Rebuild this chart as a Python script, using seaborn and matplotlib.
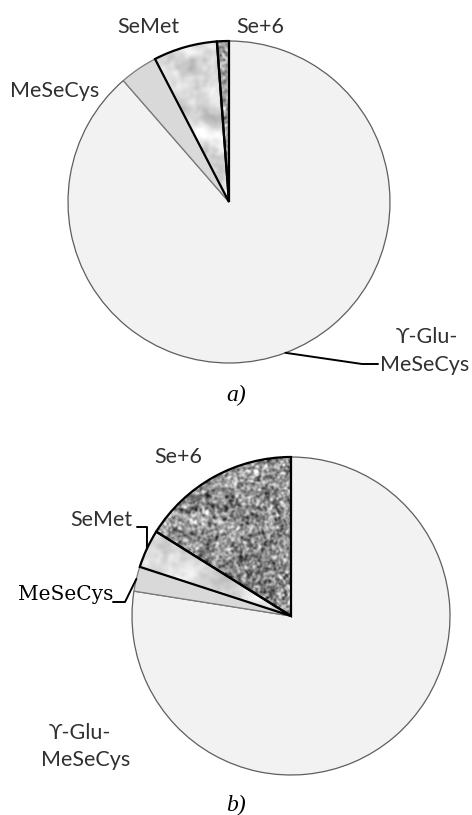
import numpy as np
import matplotlib
matplotlib.use("Agg")
import matplotlib.pyplot as plt
import seaborn as sns

# Selenium species shares (%), listed counter-clockwise from 12 o'clock
species = ["Se+6", "SeMet", "MeSeCys", "ϒ-Glu-MeSeCys"]
share_a = [1.2, 6.4, 3.8, 88.6]
share_b = [16.1, 3.9, 2.5, 77.5]
captions = ["a", "b"]

sns.set_theme(style="white")
plt.rcParams["font.family"] = ["Lato", "DejaVu Sans"]

W, H = 472, 815
fig = plt.figure(figsize=(W / 100, H / 100), dpi=100)
ax = fig.add_axes([0, 0, 1, 1])

SANS = ["Lato", "DejaVu Sans"]
TXT = "#303030"
FS = 15.5


def smooth_noise(h, w, sigma, seed):
    rng = np.random.default_rng(seed)
    z = rng.standard_normal((h, w))
    fy = np.fft.fftfreq(h)[:, None]
    fx = np.fft.fftfreq(w)[None, :]
    g = np.exp(-2 * (np.pi * sigma) ** 2 * (fx ** 2 + fy ** 2))
    z = np.real(np.fft.ifft2(np.fft.fft2(z) * g))
    return (z - z.mean()) / z.std()


def texture(kind, size, seed):
    if kind == "marble":
        n = 0.8 * smooth_noise(size, size, 6, seed) + 0.35 * smooth_noise(size, size, 2, seed + 1)
        img = 220 + 16 * n
    elif kind == "speckle":
        n = 0.85 * smooth_noise(size, size, 1.0, seed) + 0.3 * smooth_noise(size, size, 3, seed + 1)
        img = 145 + 40 * n
    else:  # mid-grey grain
        n = smooth_noise(size, size, 1.2, seed)
        img = 165 + 30 * n
    return np.clip(img, 0, 255)


def draw_pie(values, cx, cy_px, r, fills, seed):
    cy = H - cy_px
    wedges, _ = ax.pie(values, startangle=90, counterclock=True,
                       center=(cx, cy), radius=r, frame=True)
    size = int(2 * r) + 2
    for i, (w, fill) in enumerate(zip(wedges, fills)):
        if fill in ("marble", "speckle", "grain"):
            w.set_facecolor("none")
            w.set_edgecolor("black")
            w.set_linewidth(1.6)
            w.set_zorder(4)
            im = ax.imshow(texture(fill, size, seed + 10 * i), cmap="gray",
                           vmin=0, vmax=255, interpolation="bilinear",
                           extent=(cx - r, cx + r, cy - r, cy + r), zorder=1)
            im.set_clip_path(w)
        else:
            w.set_facecolor(fill)
            w.set_edgecolor("#5e5e5e" if fill == "#f2f2f2" else "#7a7a7a")
            w.set_linewidth(0.9)
            w.set_zorder(2 if fill == "#f2f2f2" else 3)
    return wedges


def rim_point(w, cx, cy_px, r):
    a = np.deg2rad(0.5 * (w.theta1 + w.theta2))
    return cx + r * np.cos(a), H - (cy_px - r * np.sin(a))


def label(x, y_px, s, **kw):
    opts = dict(ha="center", va="center", fontsize=FS, color=TXT, family=SANS)
    opts.update(kw)
    ax.text(x, H - y_px, s, **opts)


# ---- panel a ----
ca = (229, 202, 161)
wa = draw_pie(share_a, *ca, ["grain", "marble", "#d9d9d9", "#f2f2f2"], seed=3)
label(260, 27, "Se+6")
label(148, 27, "SeMet")
label(55, 91, "MeSeCys")
px, py = rim_point(wa[3], *ca)
ax.plot([px, 362, 378], [py, H - 364, H - 364], color="black", lw=1.4, zorder=5)
label(427, 337, "ϒ-Glu-")
label(425, 365, "MeSeCys")
label(236, 395, f"{captions[0]})", fontsize=17, color="black",
      family="Liberation Serif", style="italic")

# ---- panel b ----
cb = (291, 616, 159)
wb = draw_pie(share_b, *cb, ["speckle", "marble", "#d9d9d9", "#f2f2f2"], seed=11)
label(178, 457, "Se+6")
label(101, 520, "SeMet")
px, py = rim_point(wb[1], *cb)
ax.plot([137, 147, px], [H - 527, H - 527, py], color="black", lw=1.4, zorder=5)
label(66, 595, "MeSeCys", fontsize=14.5, color="black", family="DejaVu Serif")
px, py = rim_point(wb[2], *cb)
ax.plot([113, 125, px], [H - 602, H - 602, py], color="black", lw=1.4, zorder=5)
label(80, 733, "ϒ-Glu-")
label(86, 760, "MeSeCys")
label(236, 805, f"{captions[1]})", fontsize=17, color="black",
      family="Liberation Serif", style="italic")

ax.set_xlim(0, W)
ax.set_ylim(0, H)
ax.set_aspect("equal")
ax.axis("off")
fig.savefig("out.png", dpi=100, facecolor="white")
